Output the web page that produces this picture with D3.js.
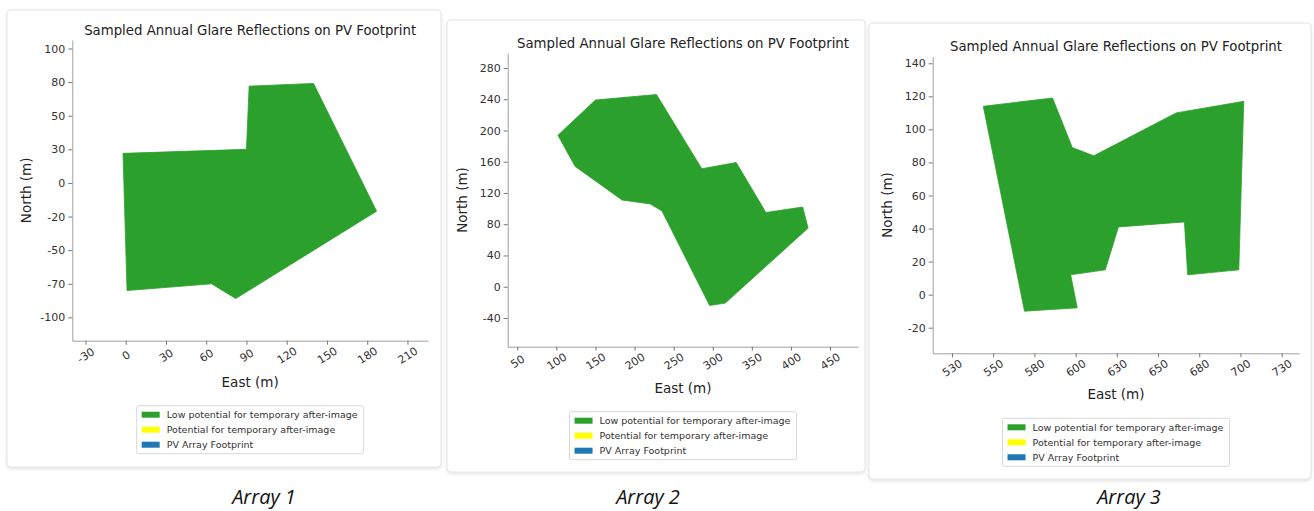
<!DOCTYPE html>
<html>
<head>
<meta charset="utf-8">
<script src="https://cdn.jsdelivr.net/npm/d3@7"></script>
<style>
  body { margin: 0; background: #fff; }
  svg { display: block; font-family: "DejaVu Sans", sans-serif; }
</style>
</head>
<body>
<svg id="chart" width="1314" height="511"></svg>
<script>
// footprint outlines, [east, north] in metres
const footprint1 = [[-2, 22], [90, 25], [92, 72], [140, 74], [187, -21], [82, -86], [64, -75], [1, -80]];
const footprint2 = [[102, 194], [150, 239], [228, 246], [286, 151], [330, 159], [368, 95], [415, 102],
                    [422, 75], [316, -21], [296, -24], [235, 97], [220, 106], [184, 111], [124, 154]];
const footprint3 = [[544, 114], [586, 119], [598, 89], [611, 84], [661, 110], [702, 117], [699, 15],
                    [668, 12], [666, 44], [626, 41], [618, 15], [597, 12], [601, -8], [569, -10]];

// tick positions and the labels printed at them
const xTicks1 = [-30, 0, 30, 60, 90, 120, 150, 180, 210];
const xTickLabels1 = ["-30", "0", "30", "60", "90", "120", "150", "180", "210"];
const yTicks1 = [-100, -75, -50, -25, 0, 25, 50, 75, 100];
const yTickLabels1 = ["-100", "-70", "-50", "-20", "0", "30", "50", "80", "100"];

const xTicks2 = [50, 100, 150, 200, 250, 300, 350, 400, 450];
const xTickLabels2 = ["50", "100", "150", "200", "250", "300", "350", "400", "450"];
const yTicks2 = [-40, 0, 40, 80, 120, 160, 200, 240, 280];
const yTickLabels2 = ["-40", "0", "40", "80", "120", "160", "200", "240", "280"];

const xTicks3 = [525, 550, 575, 600, 625, 650, 675, 700, 725];
const xTickLabels3 = ["530", "550", "580", "600", "630", "650", "680", "700", "730"];
const yTicks3 = [-20, 0, 20, 40, 60, 80, 100, 120, 140];
const yTickLabels3 = ["-20", "0", "20", "40", "60", "80", "100", "120", "140"];

const titleText = "Sampled Annual Glare Reflections on PV Footprint";
const legendLabels = ["Low potential for temporary after-image", "Potential for temporary after-image", "PV Array Footprint"];
const captions = ["Array 1", "Array 2", "Array 3"];

// styling
const legendColors = ["#2ca02c", "#ffff00", "#1f77b4"];
const areaColor = "#2ca02c";

// each panel is its own screenshot, so each gets its own frame
const panels = [
  { footprint: footprint1, xTicks: xTicks1, xLabels: xTickLabels1, yTicks: yTicks1, yLabels: yTickLabels1,
    card: [7, 10, 434, 457], left: 72.3, right: 428, top: 40, bottom: 340.7,
    xDomain: [-39.8, 225.3], yDomain: [-117.3, 106.3], caption: [264, 496] },
  { footprint: footprint2, xTicks: xTicks2, xLabels: xTickLabels2, yTicks: yTicks2, yLabels: yTickLabels2,
    card: [447, 20, 418, 452], left: 507.7, right: 858.3, top: 53.3, bottom: 346.7,
    xDomain: [37.7, 486.2], yDomain: [-76.8, 298.8], caption: [648, 496] },
  { footprint: footprint3, xTicks: xTicks3, xLabels: xTickLabels3, yTicks: yTicks3, yLabels: yTickLabels3,
    card: [869, 23, 442, 456], left: 932.7, right: 1299.3, top: 56.7, bottom: 353.3,
    xDomain: [513.3, 735.7], yDomain: [-35.5, 144.0], caption: [1129, 496] }
];

const svg = d3.select("#chart");

const shadow = svg.append("defs").append("filter").attr("id", "shadow")
  .attr("x", "-5%").attr("y", "-5%").attr("width", "110%").attr("height", "115%");
shadow.append("feDropShadow").attr("dx", 0).attr("dy", 1.5).attr("stdDeviation", 1.5)
  .attr("flood-color", "#000").attr("flood-opacity", 0.12);

panels.forEach((p, i) => {
  const g = svg.append("g");

  g.append("rect")
    .attr("x", p.card[0]).attr("y", p.card[1])
    .attr("width", p.card[2]).attr("height", p.card[3])
    .attr("rx", 4)
    .attr("fill", "#fff").attr("stroke", "#e4e4e4")
    .attr("filter", "url(#shadow)");

  const x = d3.scaleLinear().domain(p.xDomain).range([p.left, p.right]);
  const y = d3.scaleLinear().domain(p.yDomain).range([p.bottom, p.top]);

  g.append("path")
    .datum(p.footprint)
    .attr("d", d3.line().x(d => x(d[0])).y(d => y(d[1])).curve(d3.curveLinearClosed))
    .attr("fill", areaColor)
    .attr("stroke", areaColor)
    .attr("stroke-width", 0.8);

  // x axis
  const xa = g.append("g")
    .attr("transform", `translate(0,${p.bottom})`)
    .call(d3.axisBottom(x).tickValues(p.xTicks)
      .tickFormat(d => p.xLabels[p.xTicks.indexOf(d)])
      .tickSize(4).tickSizeOuter(0));
  xa.selectAll("text")
    .attr("y", 0).attr("dy", null)
    .attr("transform", "translate(0,15) rotate(-33)")
    .attr("text-anchor", "middle")
    .attr("dominant-baseline", "central");

  // y axis
  const ya = g.append("g")
    .attr("transform", `translate(${p.left},0)`)
    .call(d3.axisLeft(y).tickValues(p.yTicks)
      .tickFormat(d => p.yLabels[p.yTicks.indexOf(d)])
      .tickSize(4).tickSizeOuter(0));
  ya.selectAll("text").attr("x", -7);

  [xa, ya].forEach(a => {
    a.attr("font-family", null).attr("font-size", null);
    a.select(".domain").attr("stroke", "#a0a0a0");
    a.selectAll(".tick line").attr("stroke", "#777");
    a.selectAll("text").attr("fill", "#333").style("font-size", "11px");
  });

  const cx = (p.left + p.right) / 2;

  g.append("text")
    .attr("x", cx).attr("y", p.top - 10)
    .attr("text-anchor", "middle")
    .attr("dominant-baseline", "central")
    .attr("fill", "#222")
    .style("font-size", "13.3px")
    .text(titleText);

  g.append("text")
    .attr("x", cx).attr("y", p.bottom + 41)
    .attr("text-anchor", "middle")
    .attr("dominant-baseline", "central")
    .attr("fill", "#222")
    .style("font-size", "13.5px")
    .text("East (m)");

  g.append("text")
    .attr("transform", `translate(${p.left - 46},${(p.top + p.bottom) / 2}) rotate(-90)`)
    .attr("text-anchor", "middle")
    .attr("dominant-baseline", "central")
    .attr("fill", "#222")
    .style("font-size", "13.5px")
    .text("North (m)");

  // legend
  const lg = g.append("g");
  const box = lg.append("rect");
  const rowH = 15;
  const items = lg.selectAll("g.item").data(legendLabels).join("g")
    .attr("class", "item")
    .attr("transform", (d, k) => `translate(0,${9 + k * rowH})`);
  items.append("rect")
    .attr("x", 5).attr("y", -3).attr("width", 18).attr("height", 6)
    .attr("fill", (d, k) => legendColors[k]);
  items.append("text")
    .attr("x", 30).attr("y", 0)
    .attr("dominant-baseline", "central")
    .attr("fill", "#333")
    .style("font-size", "9.5px")
    .text(d => d);
  const w = d3.max(items.selectAll("text").nodes(), n => n.getComputedTextLength()) + 36;
  const h = 9 + (legendLabels.length - 1) * rowH + 9;
  box.attr("width", w).attr("height", h)
    .attr("rx", 2).attr("fill", "#fff").attr("stroke", "#d8d8d8");
  lg.attr("transform", `translate(${cx - w / 2},${p.bottom + 65})`);

  g.append("text")
    .attr("x", p.caption[0]).attr("y", p.caption[1])
    .attr("text-anchor", "middle")
    .attr("dominant-baseline", "central")
    .attr("fill", "#111")
    .style("font-family", "'Open Sans', sans-serif")
    .style("font-style", "italic")
    .style("font-size", "20px")
    .text(captions[i]);
});
</script>
</body>
</html>
